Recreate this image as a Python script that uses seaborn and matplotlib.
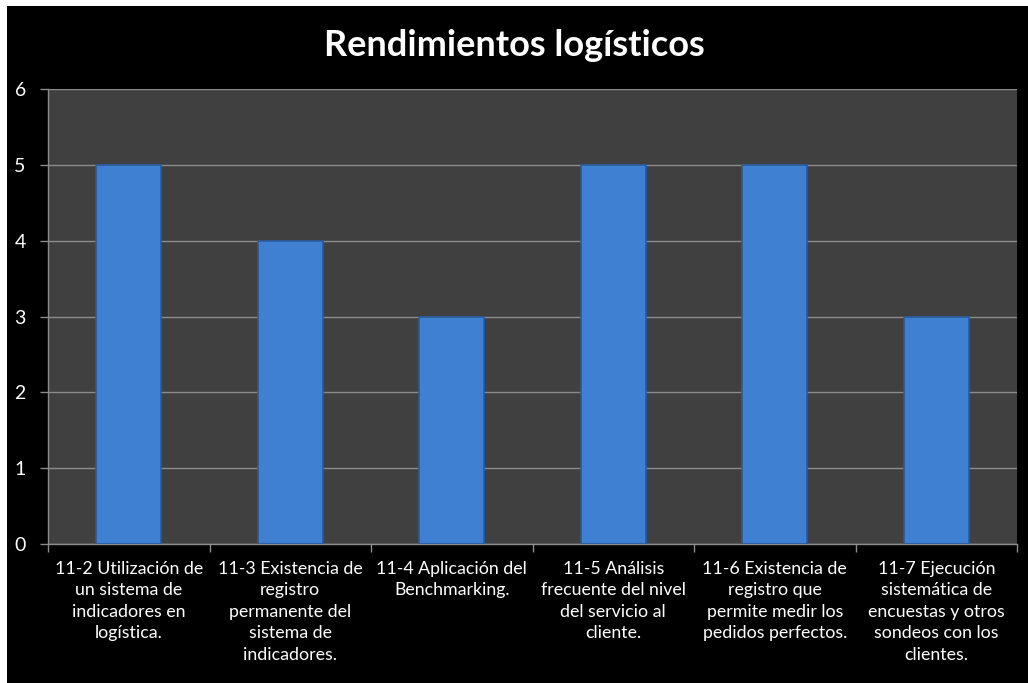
import matplotlib
matplotlib.use("Agg")
import matplotlib.pyplot as plt
import seaborn as sns
import pandas as pd
from matplotlib.patches import Rectangle

# data
categories = [
    "11-2 Utilización de\nun sistema de\nindicadores en\nlogística.",
    "11-3 Existencia de\nregistro\npermanente del\nsistema de\nindicadores.",
    "11-4 Aplicación del\nBenchmarking.",
    "11-5 Análisis\nfrecuente del nivel\ndel servicio al\ncliente.",
    "11-6 Existencia de\nregistro que\npermite medir los\npedidos perfectos.",
    "11-7 Ejecución\nsistemática de\nencuestas y otros\nsondeos con los\nclientes.",
]
values = [5, 4, 3, 5, 5, 3]
y_ticks = [0, 1, 2, 3, 4, 5, 6]
title = "Rendimientos logísticos"

sns.set_theme(style="dark")
plt.rcParams["font.family"] = ["Lato", "DejaVu Sans"]

df = pd.DataFrame({"cat": categories, "val": values})

fig = plt.figure(figsize=(10.28, 6.83), dpi=100)
fig.patch.set_facecolor("white")
# black chart area with thin white margin top/left
fig.add_artist(Rectangle((7 / 1028, 0), 1, 1 - 6 / 683, transform=fig.transFigure,
                         facecolor="black", edgecolor="none", zorder=0))

ax = fig.add_axes([48 / 1028, 1 - 544 / 683, (1017 - 48) / 1028, (544 - 89) / 683])
ax.set_facecolor("#404040")

sns.barplot(data=df, x="cat", y="val", ax=ax, width=0.4, color="#3f80d2",
            edgecolor="#2a5a9c", linewidth=1.2, saturation=1, zorder=3)

ax.set_ylim(0, 6)
ax.set_xlim(-0.5, len(categories) - 0.5)
ax.set_yticks(y_ticks)
ax.set_yticklabels([str(t) for t in y_ticks], color="white", fontsize=14)
ax.set_xticks(range(len(categories)))
ax.set_xticklabels(categories, color="white", fontsize=12.8, linespacing=1.42, va="top")
ax.set_xticks([i - 0.5 for i in range(len(categories) + 1)], minor=True)
ax.tick_params(axis="x", which="major", length=0, pad=12)
ax.tick_params(axis="x", which="minor", length=6, color="#8c8c8c", width=1, bottom=True)
ax.tick_params(axis="y", length=6, color="#8c8c8c", width=1, left=True, pad=10)
ax.set_xlabel("")
ax.set_ylabel("")

ax.grid(axis="y", color="#8c8c8c", linewidth=1, zorder=1)
ax.grid(axis="x", visible=False)
ax.set_axisbelow(True)
for side in ["top", "right"]:
    ax.spines[side].set_visible(False)
for side in ["left", "bottom"]:
    ax.spines[side].set_visible(True)
    ax.spines[side].set_color("#8c8c8c")
    ax.spines[side].set_linewidth(1)

fig.text(514 / 1028, 1 - 45 / 683, title, color="white", fontsize=26,
         fontweight="bold", ha="center", va="center")

fig.savefig("out.png", dpi=100, facecolor=fig.get_facecolor())
